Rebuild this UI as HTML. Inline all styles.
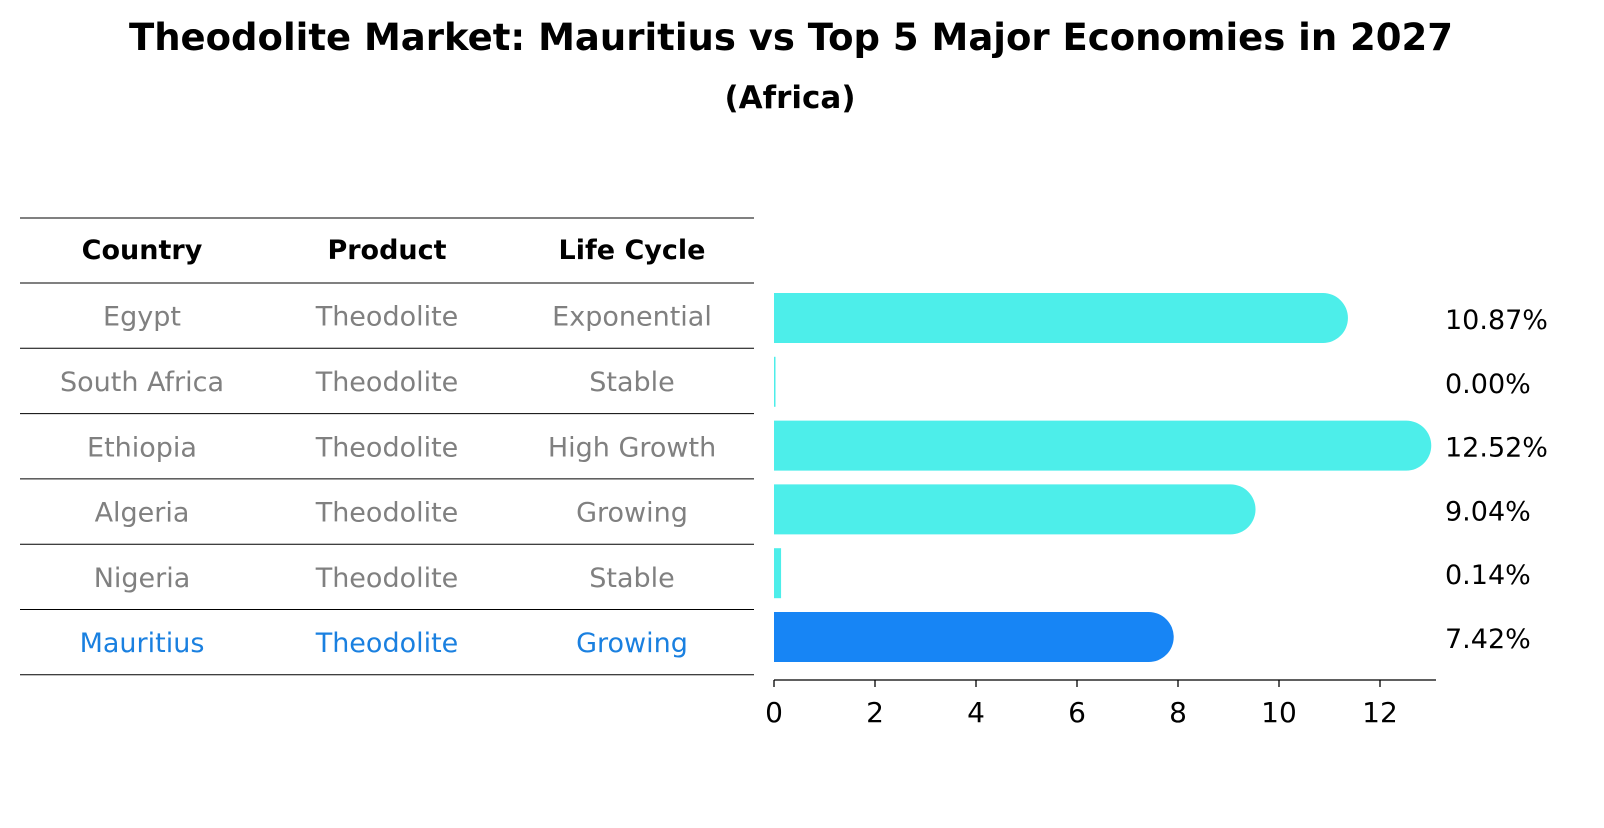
<!DOCTYPE html>
<html><head><meta charset="utf-8"><style>
body{margin:0;background:#fff;font-family:"Liberation Sans","DejaVu Sans",sans-serif;}
svg text{font-family:"DejaVu Sans","Liberation Sans",sans-serif;}
</style></head><body>
<svg id="chart" width="1604" height="823" xmlns="http://www.w3.org/2000/svg">
<text x="791" y="50" text-anchor="middle" font-size="37" font-weight="bold">Theodolite Market: Mauritius vs Top 5 Major Economies in 2027</text>
<text x="790" y="108" text-anchor="middle" font-size="31" font-weight="bold">(Africa)</text>
<g id="table"></g>
<g id="bars"></g>
<g id="axis"></g>
</svg>
<script>
const countries=["Egypt","South Africa","Ethiopia","Algeria","Nigeria","Mauritius"];
const products=["Theodolite","Theodolite","Theodolite","Theodolite","Theodolite","Theodolite"];
const lifeCycles=["Exponential","Stable","High Growth","Growing","Stable","Growing"];
const values=[10.87,0.00,12.52,9.04,0.14,7.42];
const tickValues=[0,2,4,6,8,10,12];
const NS="http://www.w3.org/2000/svg";
function mk(tag,attrs,parent){const e=document.createElementNS(NS,tag);for(const k in attrs)e.setAttribute(k,attrs[k]);parent.appendChild(e);return e;}
const x0=774,pxPer=50.5;
const xs=v=>x0+v*pxPer;
const rowTop=283,rowH=65.3;
const table=document.getElementById('table');
const lineYs=[218];
for(let i=0;i<=countries.length;i++)lineYs.push(rowTop+i*rowH);
lineYs.forEach((y,i)=>{const l=mk('line',{x1:20,x2:754,y1:y,y2:y,stroke:'#000','stroke-width':1},table);

});
const colX=[142,387,632];
["Country","Product","Life Cycle"].forEach((h,j)=>{const t=mk('text',{x:colX[j],y:259,'text-anchor':'middle','font-size':27,'font-weight':'bold'},table);t.textContent=h;

});
countries.forEach((c,i)=>{
const y=rowTop+i*rowH+rowH/2+10;
const col=c==="Mauritius"?"#1a80e0":"#808080";
[c,products[i],lifeCycles[i]].forEach((s,j)=>{const t=mk('text',{x:colX[j],y:y,'text-anchor':'middle','font-size':27,fill:col},table);t.textContent=s;

});
});
const bars=document.getElementById('bars');
const bh=50,bc0=318,bstep=63.8;
values.forEach((v,i)=>{
const cy=bc0+i*bstep;
const col=countries[i]==="Mauritius"?"#1785f5":"#4deeea";
const w=xs(v)-x0;
let p;
if(w<20){p=mk('rect',{x:x0,y:cy-bh/2,width:Math.max(w,1.5),height:bh,fill:col},bars);}
else{const r=bh/2;p=mk('path',{d:`M${x0},${cy-r} H${x0+w} A${r},${r} 0 0 1 ${x0+w},${cy+r} H${x0} Z`,fill:col},bars);}


const t=mk('text',{x:1445,y:cy+11,'font-size':27},bars);t.textContent=v.toFixed(2)+'%';


});
const axis=document.getElementById('axis');
const ay=680;
const al=mk('line',{x1:x0,x2:1436,y1:ay,y2:ay,stroke:'#000','stroke-width':1.3},axis);


tickValues.forEach(v=>{const x=xs(v);
const tk=mk('line',{x1:x,x2:x,y1:ay,y2:ay+7,stroke:'#000','stroke-width':1.3},axis);


const t=mk('text',{x:x,y:ay+42,'text-anchor':'middle','font-size':28},axis);t.textContent=v;

});
</script>
</body></html>
